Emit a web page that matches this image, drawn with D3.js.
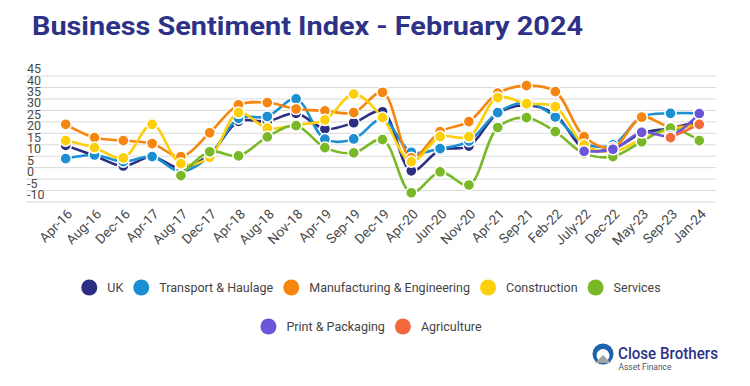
<!DOCTYPE html>
<html>
<head>
<meta charset="utf-8">
<script src="https://cdn.jsdelivr.net/npm/d3@7"></script>
<style>
  body { margin: 0; background: #fff; }
  text { font-family: Roboto, "Open Sans", sans-serif; }
</style>
</head>
<body>
<script>
// categories along the x axis
var months = ["Apr-16", "Aug-16", "Dec-16", "Apr-17", "Aug-17", "Dec-17", "Apr-18", "Aug-18", "Nov-18",
  "Apr-19", "Sep-19", "Dec-19", "Apr-20", "Jun-20", "Nov-20", "Apr-21", "Sep-21", "Feb-22",
  "July-22", "Dec-22", "May-23", "Sep-23", "Jan-24"];

var yTicks = [45, 40, 35, 30, 25, 20, 15, 10, 5, 0, -5, -10];

// series values (null = no reading)
var uk = [11.5, 7, 2.5, 6.5, 1.5, 7.5, 22, 22, 25.5, 18.7, 21.4, 26.2, 0.4, 9.5, 11.2, 25.5, 29, 25, 10, 10, 16.8, 19, 22];
var transport = [5.7, 7.3, 4.4, 6.6, 0, 7, 23.3, 24.1, 31.8, 14.2, 14.3, 23, 8.5, 10.1, 13.4, 25.8, 30.2, 23.9, 12.4, 11.7, 24, 25.5, 25.5];
var manufacturing = [20.7, 14.9, 13.6, 12.3, 6.6, 17, 29.2, 30.2, 27.4, 26.6, 25.8, 34.7, 6, 17.5, 21.9, 34.3, 37.6, 35, 15.3, 10.5, 23.8, 19.5, 21];
var construction = [13.6, 10.5, 6, 20.7, 3.5, 6.3, 25.8, 19, 20.5, 22.6, 33.9, 23.6, 4.4, 15.3, 15.3, 32.4, 29.7, 28.4, 11.7, 8.7, 14.3, 18.5, 20];
var services = [null, null, null, null, -1.7, 8.7, 6.9, 15.2, 20.1, 10.5, 8.2, 14, -9.2, -0.1, -5.8, 19.3, 23.6, 17.5, 8, 6.6, 13.1, 19, 13.6];
var print = [null, null, null, null, null, null, null, null, null, null, null, null, null, null, null, null, null, null, 8.9, 9.8, 17.2, 15.6, 25.4];
var agriculture = [null, null, null, null, null, null, null, null, null, null, null, null, null, null, null, null, null, null, null, null, null, 14.9, 20.7];

var names = ["UK", "Transport & Haulage", "Manufacturing & Engineering", "Construction", "Services", "Print & Packaging", "Agriculture"];
var colors = ["#2b2e83", "#1b8fd2", "#f6860f", "#fccf0a", "#79b928", "#6c55d8", "#f26a3b"];
var seriesValues = [uk, transport, manufacturing, construction, services, print, agriculture];

var series = names.map(function(name, i) {
  return {
    id: name,
    color: colors[i],
    values: seriesValues[i].map(function(v, j) { return {month: months[j], value: v}; })
      .filter(function(d) { return d.value != null; })
  };
});

var width = 750, height = 386;

var svg = d3.select("body").append("svg")
    .attr("width", width)
    .attr("height", height);

svg.append("text")
    .attr("x", 32)
    .attr("y", 35)
    .attr("fill", "#2e3287")
    .style("font-size", "26px")
    .style("font-weight", "700")
    .attr("textLength", 551)
    .attr("lengthAdjust", "spacingAndGlyphs")
    .text("Business Sentiment Index - February 2024");

var x = d3.scalePoint().domain(months).range([65.7, 699.3]);
var y = d3.scaleLinear().domain([0, 45]).range([171.7, 68.7]);

// gridlines sit a little under their labels, like the original
var gridOffset = 7.4;
svg.append("g").selectAll("line")
  .data(yTicks)
  .enter().append("line")
    .attr("x1", 26)
    .attr("x2", 716)
    .attr("y1", function(d) { return y(d) + gridOffset; })
    .attr("y2", function(d) { return y(d) + gridOffset; })
    .attr("stroke", "#d9d9d9")
    .attr("stroke-width", 1);

svg.append("g").selectAll("text")
  .data(yTicks)
  .enter().append("text")
    .attr("x", 27)
    .attr("y", function(d) { return y(d); })
    .attr("dy", "0.35em")
    .attr("fill", "#4a4a4a")
    .style("font-size", "12.5px")
    .text(function(d) { return d; });

var xAxis = svg.append("g")
    .attr("transform", "translate(0,214)")
    .call(d3.axisBottom(x).tickSize(0).tickPadding(0));
xAxis.select(".domain").remove();
xAxis.selectAll("text")
    .attr("y", 0)
    .attr("dy", 0)
    .attr("transform", "translate(7,1) rotate(-45)")
    .style("text-anchor", "end")
    .style("font-size", "13.5px")
    .style("font-family", "Roboto, sans-serif")
    .attr("fill", "#4a4a4a");

var line = d3.line()
    .curve(d3.curveCatmullRom.alpha(0.5))
    .x(function(d) { return x(d.month); })
    .y(function(d) { return y(d.value); });

var group = svg.selectAll(".series")
  .data(series)
  .enter().append("g")
    .attr("class", "series");

group.append("path")
    .attr("d", function(d) { return line(d.values); })
    .attr("fill", "none")
    .attr("stroke", function(d) { return d.color; })
    .attr("stroke-width", 2.6);

group.selectAll("circle")
  .data(function(d) { return d.values.map(function(v) { return {color: d.color, month: v.month, value: v.value}; }); })
  .enter().append("circle")
    .attr("cx", function(d) { return x(d.month); })
    .attr("cy", function(d) { return y(d.value); })
    .attr("r", 5.6)
    .attr("fill", function(d) { return d.color; })
    .attr("stroke", "#fff")
    .attr("stroke-width", 1.5);

// legend, two centred rows
var legendRows = [[0, 1, 2, 3, 4], [5, 6]];
var legendY = [287.5, 326.5];
legendRows.forEach(function(row, r) {
  var g = svg.append("g");
  var pos = 0;
  row.forEach(function(i) {
    var item = g.append("g").attr("transform", "translate(" + pos + ",0)");
    item.append("circle").attr("cx", 8).attr("cy", 0).attr("r", 8).attr("fill", colors[i]);
    var t = item.append("text")
        .attr("x", 26)
        .attr("dy", "0.35em")
        .attr("fill", "#444")
        .style("font-size", "12.5px")
        .text(names[i]);
    pos += 26 + t.node().getComputedTextLength() + 10;
  });
  var w = pos - 10;
  g.attr("transform", "translate(" + ((width - w) / 2 - 4) + "," + legendY[r] + ")");
});

// logo
var logo = svg.append("g").attr("transform", "translate(603,354)");
logo.append("circle").attr("r", 10.5).attr("fill", "#1d62ad");
logo.append("circle").attr("cy", 1.5).attr("r", 6.5).attr("fill", "#fff");
logo.append("path").attr("d", "M-8,9 L0,1 L8,9 Z").attr("fill", "#a3a3a3");
logo.append("text")
    .attr("x", 15)
    .attr("y", 4.5)
    .attr("fill", "#2e3287")
    .style("font-size", "16.5px")
    .style("font-weight", "500")
    .attr("textLength", 100)
    .attr("lengthAdjust", "spacingAndGlyphs")
    .text("Close Brothers");
logo.append("text")
    .attr("x", 15.5)
    .attr("y", 15.5)
    .attr("fill", "#555")
    .style("font-size", "9.5px")
    .attr("textLength", 53)
    .attr("lengthAdjust", "spacingAndGlyphs")
    .text("Asset Finance");
</script>
</body>
</html>
